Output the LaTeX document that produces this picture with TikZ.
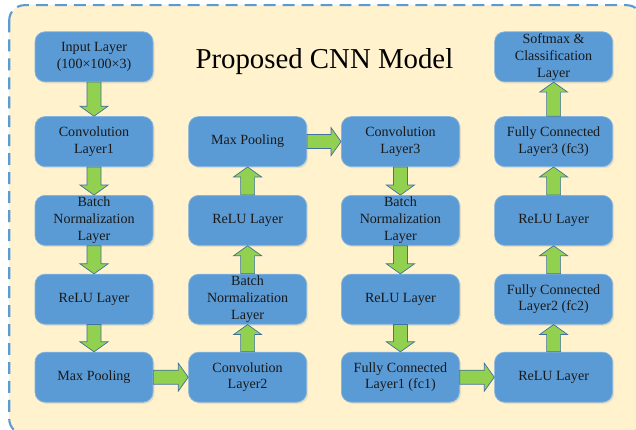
\documentclass[tikz,border=0pt]{standalone}
\usepackage{fontspec}
\setmainfont{Liberation Serif}
\usetikzlibrary{calc,shadows}

\definecolor{boxblue}{RGB}{91,155,213}
\definecolor{bgyellow}{RGB}{255,242,204}
\definecolor{arrowgreen}{RGB}{146,208,80}
\definecolor{arrowedge}{RGB}{65,113,156}

\tikzset{
	layer/.style={rectangle, rounded corners=0.25cm, fill=boxblue, draw=boxblue!75!white,
		line width=0.5pt, minimum width=2.95cm, minimum height=1.25cm, inner sep=1pt,
		align=center, text=black!90, font=\fontsize{10}{12}\selectfont,
		drop shadow={opacity=0.18, shadow xshift=0.04cm, shadow yshift=-0.04cm}},
	flowarrow/.style={fill=arrowgreen, draw=arrowedge, line width=0.5pt},
	frame/.style={draw=boxblue, fill=bgyellow, line width=1.5pt,
		dash pattern=on 8.5pt off 5pt, rounded corners=0.38cm},
	heading/.style={font=\fontsize{20.5}{24}\selectfont}
}

% fat block arrow from one anchor to another
\newcommand{\blockarrow}[2]{%
	\path[flowarrow] let \p1=(#1), \p2=(#2), \n1={atan2(\y2-\y1,\x2-\x1)},
		\n2={veclen(\x2-\x1,\y2-\y1)} in [shift={(\p1)}, rotate=\n1]
		(0cm,-0.175cm) -- (\n2-0.25cm,-0.175cm) -- (\n2-0.25cm,-0.35cm) -- (\n2,0cm)
		-- (\n2-0.25cm,0.35cm) -- (\n2-0.25cm,0.175cm) -- (0cm,0.175cm) -- cycle;
}

\begin{document}
\begin{tikzpicture}
	\useasboundingbox (0,0) rectangle (15.9,-10.75);
	\draw[frame] (0.23,-0.13) rectangle (16.05,-10.85);

	\node[heading] (title) at (8.11,-1.55) {Proposed CNN Model};

	%first column
	\node[layer] (in1) at (2.35,-1.42) {Input Layer\\(100×100×3)};
	\node[layer] (conv1) at (2.35,-3.54) {Convolution\\Layer1};
	\node[layer] (bn1) at (2.35,-5.51) {Batch\\Normalization\\Layer};
	\node[layer] (relu1) at (2.35,-7.48) {ReLU Layer};
	\node[layer] (pool1) at (2.35,-9.43) {Max Pooling};

	%second column
	\node[layer] (pool2) at (6.19,-3.54) {Max Pooling};
	\node[layer] (relu2) at (6.19,-5.51) {ReLU Layer};
	\node[layer] (bn2) at (6.19,-7.48) {Batch\\Normalization\\Layer};
	\node[layer] (conv2) at (6.19,-9.43) {Convolution\\Layer2};

	%third column
	\node[layer] (conv3) at (10.01,-3.54) {Convolution\\Layer3};
	\node[layer] (bn3) at (10.01,-5.51) {Batch\\Normalization\\Layer};
	\node[layer] (relu3) at (10.01,-7.48) {ReLU Layer};
	\node[layer] (fc1) at (10.01,-9.43) {Fully Connected\\Layer1 (fc1)};

	%fourth column
	\node[layer] (soft) at (13.84,-1.42) {Softmax \&\\Classification\\Layer};
	\node[layer] (fc3) at (13.84,-3.54) {Fully Connected\\Layer3 (fc3)};
	\node[layer] (relu5) at (13.84,-5.51) {ReLU Layer};
	\node[layer] (fc2) at (13.84,-7.48) {Fully Connected\\Layer2 (fc2)};
	\node[layer] (relu4) at (13.84,-9.43) {ReLU Layer};

	\foreach \a/\b in {in1.south/conv1.north, conv1.south/bn1.north, bn1.south/relu1.north,
		relu1.south/pool1.north, pool1.east/conv2.west, conv2.north/bn2.south,
		bn2.north/relu2.south, relu2.north/pool2.south, pool2.east/conv3.west,
		conv3.south/bn3.north, bn3.south/relu3.north, relu3.south/fc1.north,
		fc1.east/relu4.west, relu4.north/fc2.south, fc2.north/relu5.south,
		relu5.north/fc3.south, fc3.north/soft.south}{
		\blockarrow{\a}{\b}
	}
\end{tikzpicture}
\end{document}
